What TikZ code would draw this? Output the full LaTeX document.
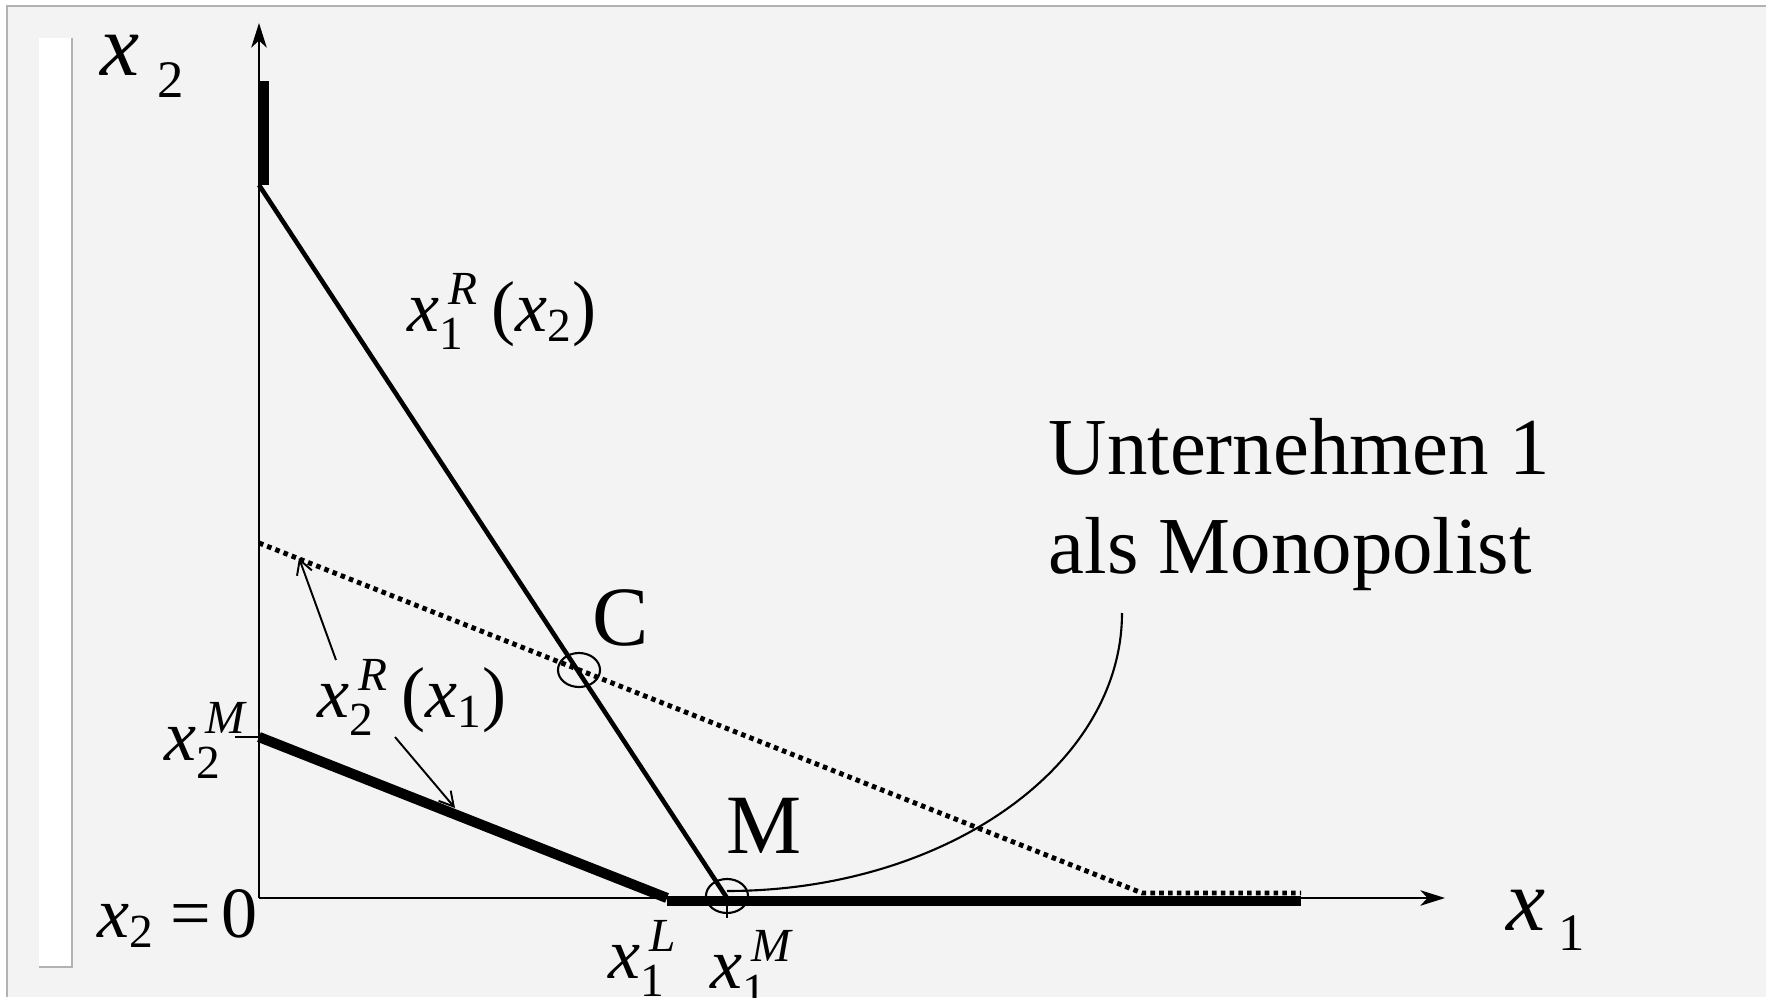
\documentclass[tikz,border=0pt]{standalone}
\usepackage{amsmath}
\usepackage{fontspec}
\setmainfont{Liberation Serif}
\definecolor{panel}{HTML}{F3F3F3}
\definecolor{rim}{HTML}{B2B2B2}
\usetikzlibrary{arrows.meta, shapes.geometric}
\newcommand{\vx}{\hbox{\itshape x}}
\newcommand{\scr}[1]{\hbox{\fontsize{13.5}{16}\selectfont #1}}
\newcommand{\vxx}[2]{$\vx^{\kern2.5pt\scr{\itshape #2}}_{\scr{#1}}$}
\newcommand{\vxl}[1]{$\vx_{\scr{#1}}$}

\begin{document}
\begin{tikzpicture}[x=0.01cm, y=-0.01cm,
  every node/.style={inner sep=0pt, anchor=base west},
  axis/.style={line width=0.6pt, -{Stealth[length=7pt, width=4.4pt, inset=2pt]}},
  thickline/.style={line width=2.9pt},
  resp/.style={line width=1.3pt},
  dotline/.style={line width=1.4pt, dash pattern=on 1.3pt off 1.2pt},
  pointer/.style={line width=0.55pt, -{Straight Barb[length=4pt, width=4.5pt]}},
  ringmark/.style={draw, ellipse, line width=0.6pt, anchor=center,
                   minimum width=0.42cm, minimum height=0.34cm},
  mathlab/.style={font=\fontsize{20.5}{24}\selectfont},
  biglab/.style={font=\fontsize{24}{28}\selectfont},
  firmlab/.style={font=\fontsize{23}{28}\selectfont}]
  \useasboundingbox (0,0) rectangle (1771,1003);
  \fill[white] (0,0) rectangle (1771,1003);
  \fill[panel] (7,6) rectangle (1766,997);
  \draw[rim, line width=0.8pt] (7,997) -- (7,6) -- (1766,6);
  \fill[white] (39,38) rectangle (72,967);
  \draw[rim, line width=0.6pt] (39,967) -- (72,967) -- (72,38);

  \begin{scope}
  \clip (7,6) rectangle (1766,997);
  \coordinate (O) at (259,898);
  \coordinate (ytip) at (259,23);
  \coordinate (xtip) at (1445,898);
  \coordinate (top) at (259,185);
  \coordinate (barTop) at (263.5,81);
  \coordinate (barBot) at (263.5,185);
  \coordinate (x2M) at (259,737);
  \coordinate (L) at (667,898);
  \coordinate (Mpt) at (727,898);
  \coordinate (d0) at (259,543);
  \coordinate (d1) at (1142,893);
  \coordinate (d2) at (1301,893);
  \coordinate (t1) at (667,901);
  \coordinate (t2) at (1301,901);

  \draw[axis] (O) -- (ytip);
  \draw[axis] (O) -- (xtip);
  \draw[thickline] (barTop) -- (barBot);
  \draw[resp] (top) -- (Mpt);
  \draw[thickline] (x2M) -- (L);
  \draw[thickline] (t1) -- (t2);
  \draw[dotline] (d0) -- (d1) -- (d2);
  \draw[line width=0.6pt] (x2M) -- ++(-24,0);
  \draw[line width=0.6pt] (Mpt) -- ++(0,20);

  \node[ringmark] (C) at (579,670) {};
  \node[ringmark] (M) at (727,896) {};
  \node[biglab] (Clab) at (592,645) {C};
  \node[biglab] (Mlab) at (726,853) {M};

  \node[firmlab] (firm1) at (1048,474) {Unternehmen 1};
  \node[firmlab] (firm2) at (1048,573) {als Monopolist};
  \coordinate (bend) at (1122,613);
  \coordinate (Mtop) at (727,891);
  \draw[line width=0.6pt] (bend) .. controls (1122,766) and (945,891) .. (Mtop);

  \node[mathlab] (resp1) at (407,331) {\vxx{1}{R}\,(\vxl{2})};
  \node[mathlab] (resp2) at (317,717) {\vxx{2}{R}\,(\vxl{1})};
  \coordinate (p1s) at (336,660);
  \coordinate (p1e) at (299,558);
  \coordinate (p2s) at (395,737);
  \coordinate (p2e) at (455,808);
  \draw[pointer] (p1s) -- (p1e);
  \draw[pointer] (p2s) -- (p2e);

  \node[mathlab] (x2Mlab) at (164,760) {\vxx{2}{M}};
  \node[mathlab] (zero) at (97,937) {\vxl{2}\hspace{4.3pt}=\hspace{3pt}0};
  \node[mathlab] (x1L) at (608,978) {\vxx{1}{L}};
  \node[mathlab] (x1M) at (710,988) {\vxx{1}{M}};

  \node[font=\fontsize{25}{30}\selectfont] (x2ax) at (100,75)
    {\textit{x}\hspace{5pt}\raisebox{-6.3pt}{\fontsize{15}{18}\selectfont 2}};
  \node[font=\fontsize{25}{30}\selectfont] (x1ax) at (1506,930)
    {\textit{x}\hspace{3.5pt}\raisebox{-5.7pt}{\fontsize{15}{18}\selectfont 1}};
  \end{scope}
\end{tikzpicture}
\end{document}
